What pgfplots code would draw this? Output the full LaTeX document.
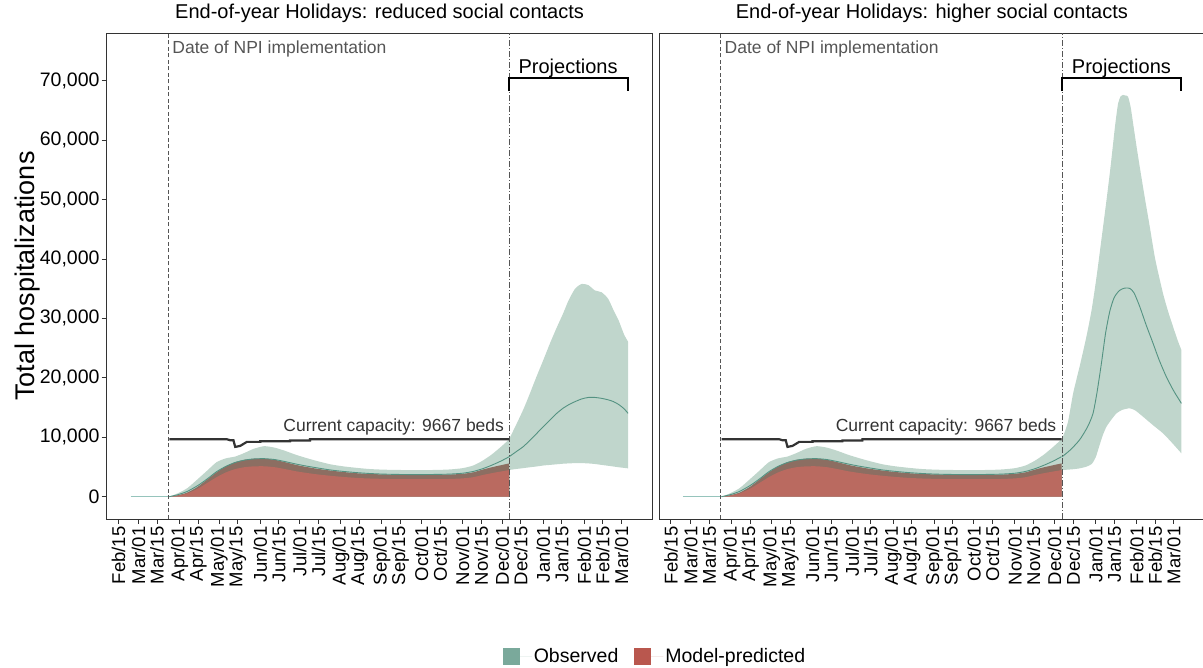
\documentclass[border=0pt]{standalone}
\usepackage{fontspec}
\setmainfont{Liberation Sans}
\usepackage{pgfplots}
\usepackage{pgfplotstable}
\pgfplotsset{compat=1.18}
\usepgfplotslibrary{fillbetween}

\definecolor{bandgreen}{RGB}{192,214,204}
\definecolor{medteal}{RGB}{84,146,130}
\definecolor{preteal}{RGB}{150,196,188}
\definecolor{modred}{RGB}{186,106,96}
\definecolor{darkband}{RGB}{140,110,98}
\definecolor{capgray}{RGB}{51,51,51}
\definecolor{vgray}{RGB}{85,85,85}
\definecolor{legteal}{RGB}{122,169,155}
\definecolor{legred}{RGB}{185,87,78}

% observed band before projection (both panels)
\pgfplotstableread{
day upper
38.3 0
45 600
52 1450
60 3000
67 4400
74 5800
81 6450
88 6750
95 7350
102 8050
110 8500
118 8250
126 7700
134 7050
142 6500
150 6000
160 5450
170 5100
180 4850
190 4650
200 4550
210 4500
220 4480
230 4480
240 4500
250 4580
260 4800
268 5250
275 6050
282 7100
289 8400
295.7 9750
}\greenpre

% model-predicted: red area and darker overlap band
\pgfplotstableread{
day dark red
38.3 0 0
45 250 200
52 700 560
60 1700 1360
67 2900 2320
74 4100 3280
81 5100 4080
88 5800 4640
95 6200 4960
102 6380 5100
110 6400 5120
118 6200 4960
126 5800 4640
134 5350 4280
142 5000 4000
150 4700 3760
160 4400 3520
170 4150 3320
180 3950 3160
190 3820 3060
200 3750 3000
210 3700 2960
220 3680 2940
230 3680 2940
240 3700 2960
250 3720 2980
260 3850 3080
268 4100 3280
275 4550 3640
282 4950 3960
289 5300 4240
295.2 5600 4480
}\model

% observed median before projection
\pgfplotstableread{
day med
38.3 0
45 350
52 900
60 1900
67 3000
74 4200
81 5100
88 5750
95 6150
102 6350
110 6400
118 6250
126 5900
134 5500
142 5150
150 4850
160 4500
170 4250
180 4050
190 3900
200 3800
210 3750
220 3720
230 3720
240 3750
250 3800
260 3950
268 4250
275 4700
282 5300
289 6000
295.2 6730
}\medpre

\pgfplotstableread{
day val
9 0
38.3 0
}\prenpi

% capacity
\pgfplotstableread{
day cap
38.3 9667
81.8 9667
84.3 9500
86.8 9500
88.1 8380
91.9 8545
96.9 9220
107 9220
107 9330
129.6 9330
129.6 9440
144.7 9440
144.7 9667
295.2 9667
}\capacity

% projections, reduced social contacts
\pgfplotstableread{
day lower med upper
295.2 4490 6730 9700
300 4650 7500 11900
305.7 4800 8400 14590
310 4930 9300 16900
315.8 5080 10600 20190
321 5250 11800 23000
326 5350 12900 25800
331 5450 14000 28400
336 5550 14900 30860
340 5600 15450 33000
345 5650 16000 35000
350 5650 16450 35800
355 5600 16700 35600
360 5500 16700 34700
365 5350 16550 34400
370 5200 16300 33300
374 5080 16000 31400
378 4950 15500 29600
382 4850 14800 27300
385 4770 14030 26100
}\projA

% projections, higher social contacts
\pgfplotstableread{
day upper
295.7 9750
300 12500
304 17400
309 22000
314 26920
318 31500
321.7 37020
325.5 43500
329.2 49900
332 55000
334.2 59430
336 63000
338 66200
340 67400
341.7 67600
343.5 67500
345.5 67300
347.5 65500
349.3 62830
352 58800
354.3 55540
358 50500
361.9 45440
366 40000
371.9 34220
376 31000
379.5 28610
383 26300
385.8 24680
}\projBup

\pgfplotstableread{
day lower
295.7 4490
303 4600
309 4770
314 5050
318 5500
321 6600
324 8700
326.5 10400
329.2 11780
333 13000
336.8 14030
341 14600
346.8 14870
351 14500
356.8 13460
364 12100
371.9 10660
379 9000
385.8 7300
}\projBlo

\pgfplotstableread{
day med
295.7 6730
302 7900
309 9600
315 11800
319 14000
322 17500
325.4 22500
328.5 27500
331.7 31200
335 33500
339 34700
343 35100
346.8 35050
350 34300
354.3 32000
359 29000
364.4 25800
369 23000
374.4 20190
380 17800
385.8 15710
}\projBmed

\pgfplotsset{panel/.style={
  scale only axis, width=545.8pt, height=486pt, anchor=south west,
  xmin=-9, xmax=403.5, ymin=-3752, ymax=78025,
  axis line style={draw=black!80, line width=0.9pt},
  tick align=outside, major tick length=5pt, tick pos=left,
  tick style={draw=black!80, line width=0.9pt},
  xtick={0,15,29,46,60,76,90,107,121,137,151,168,182,199,213,229,243,260,274,290,304,321,335,352,366,380},
  xticklabels={Feb/15,Mar/01,Mar/15,Apr/01,Apr/15,May/01,May/15,Jun/01,Jun/15,Jul/01,Jul/15,Aug/01,Aug/15,Sep/01,Sep/15,Oct/01,Oct/15,Nov/01,Nov/15,Dec/01,Dec/15,Jan/01,Jan/15,Feb/01,Feb/15,Mar/01},
  xticklabel style={rotate=90, anchor=east, font=\fontsize{18.5}{20}\selectfont, inner sep=2.5pt},
  ytick={0,10000,20000,30000,40000,50000,60000,70000},
  scaled y ticks=false,
  yticklabel style={font=\fontsize{19.5}{22}\selectfont, inner sep=2pt},
  /pgf/number format/1000 sep={,},
  /pgf/number format/assume math mode=true,
  title style={font=\fontsize{20}{22}\selectfont, at={(axis description cs:0.5,1.0288)}, anchor=center},
  legend image code/.code={\fill[#1] (0pt,-8.3pt) rectangle (16.7pt,8.3pt); \path (0pt,0pt) -- (29pt,0pt);},
}}

\begin{document}
\begin{tikzpicture}
% ---------- left panel ----------
\begin{axis}[panel, at={(106.7pt,149pt)},
  title={End-of-year Holidays: reduced social contacts},
  ylabel={Total hospitalizations},
  ylabel style={font=\fontsize{27}{30}\selectfont, at={(axis description cs:-0.1442,0.5)}, anchor=center},
  legend style={at={(1.0046,-0.283)}, anchor=center, draw=none, fill=none,
    legend columns=2, font=\fontsize{19.5}{22}\selectfont,
    /tikz/every even column/.append style={column sep=14pt}},
]
\addlegendimage{fill=legteal, draw=none}
\addlegendentry{Observed}
\addlegendimage{fill=legred, draw=none}
\addlegendentry{Model-predicted}

\addplot[forget plot, fill=bandgreen, draw=none, smooth, tension=0.4] table[x=day,y=upper]{\greenpre} \closedcycle;
\addplot[forget plot, name path=aup, draw=none, smooth, tension=0.4] table[x=day,y=upper]{\projA};
\addplot[forget plot, name path=alo, draw=none, smooth, tension=0.4] table[x=day,y=lower]{\projA};
\addplot[forget plot, fill=bandgreen, draw=none] fill between[of=aup and alo];
\addplot[forget plot, fill=darkband, draw=none, smooth, tension=0.4] table[x=day,y=dark]{\model} \closedcycle;
\addplot[forget plot, fill=modred, draw=none, smooth, tension=0.4] table[x=day,y=red]{\model} \closedcycle;
\addplot[forget plot, preteal, line width=1.6pt] table[x=day,y=val]{\prenpi};
\addplot[forget plot, medteal, line width=0.9pt, smooth, tension=0.4] table[x=day,y=med]{\medpre};
\addplot[forget plot, medteal, line width=0.9pt, smooth, tension=0.4] table[x=day,y=med]{\projA};
\addplot[forget plot, capgray, line width=2.2pt, sharp plot] table[x=day,y=cap]{\capacity};
\addplot[forget plot, vgray, line width=0.8pt, dash pattern=on 4pt off 2.5pt] coordinates {(37.3,-3752) (37.3,78025)};
\addplot[forget plot, vgray, line width=0.8pt, dash pattern=on 6pt off 2pt on 1pt off 2pt] coordinates {(295.2,-3752) (295.2,78025)};
\addplot[forget plot, black, line width=2pt, sharp plot] coordinates {(295.2,68260) (295.2,70450) (384.8,70450) (384.8,68260)};
\node[anchor=base west, inner sep=0pt, text=vgray, font=\fontsize{17.5}{20}\selectfont] at (axis cs:40.5,74600) {Date of NPI implementation};
\node[anchor=base east, inner sep=0pt, text=capgray, font=\fontsize{17.5}{20}\selectfont] at (axis cs:291.4,10937) {Current capacity: 9667 beds};
\node[anchor=base, inner sep=0pt, font=\fontsize{20}{22}\selectfont] at (axis cs:339.7,71240) {Projections};
\end{axis}

% ---------- right panel ----------
\begin{axis}[panel, at={(659pt,149pt)}, ytick=\empty,
  title={End-of-year Holidays: higher social contacts},
]
\addplot[forget plot, fill=bandgreen, draw=none, smooth, tension=0.4] table[x=day,y=upper]{\greenpre} \closedcycle;
\addplot[forget plot, name path=bup, draw=none, smooth, tension=0.4] table[x=day,y=upper]{\projBup};
\addplot[forget plot, name path=blo, draw=none, smooth, tension=0.4] table[x=day,y=lower]{\projBlo};
\addplot[forget plot, fill=bandgreen, draw=none] fill between[of=bup and blo];
\addplot[forget plot, fill=darkband, draw=none, smooth, tension=0.4] table[x=day,y=dark]{\model} \closedcycle;
\addplot[forget plot, fill=modred, draw=none, smooth, tension=0.4] table[x=day,y=red]{\model} \closedcycle;
\addplot[forget plot, preteal, line width=1.6pt] table[x=day,y=val]{\prenpi};
\addplot[forget plot, medteal, line width=0.9pt, smooth, tension=0.4] table[x=day,y=med]{\medpre};
\addplot[forget plot, medteal, line width=0.9pt, smooth, tension=0.4] table[x=day,y=med]{\projBmed};
\addplot[forget plot, capgray, line width=2.2pt, sharp plot] table[x=day,y=cap]{\capacity};
\addplot[forget plot, vgray, line width=0.8pt, dash pattern=on 4pt off 2.5pt] coordinates {(37.3,-3752) (37.3,78025)};
\addplot[forget plot, vgray, line width=0.8pt, dash pattern=on 6pt off 2pt on 1pt off 2pt] coordinates {(295.7,-3752) (295.7,78025)};
\addplot[forget plot, black, line width=2pt, sharp plot] coordinates {(295.7,68260) (295.7,70450) (385.8,70450) (385.8,68260)};
\node[anchor=base west, inner sep=0pt, text=vgray, font=\fontsize{17.5}{20}\selectfont] at (axis cs:40.5,74600) {Date of NPI implementation};
\node[anchor=base east, inner sep=0pt, text=capgray, font=\fontsize{17.5}{20}\selectfont] at (axis cs:291.4,10937) {Current capacity: 9667 beds};
\node[anchor=base, inner sep=0pt, font=\fontsize{20}{22}\selectfont] at (axis cs:340.5,71240) {Projections};
\end{axis}
\pgfresetboundingbox
\useasboundingbox (0pt,0pt) rectangle (1203pt,668pt);
\end{tikzpicture}
\end{document}
